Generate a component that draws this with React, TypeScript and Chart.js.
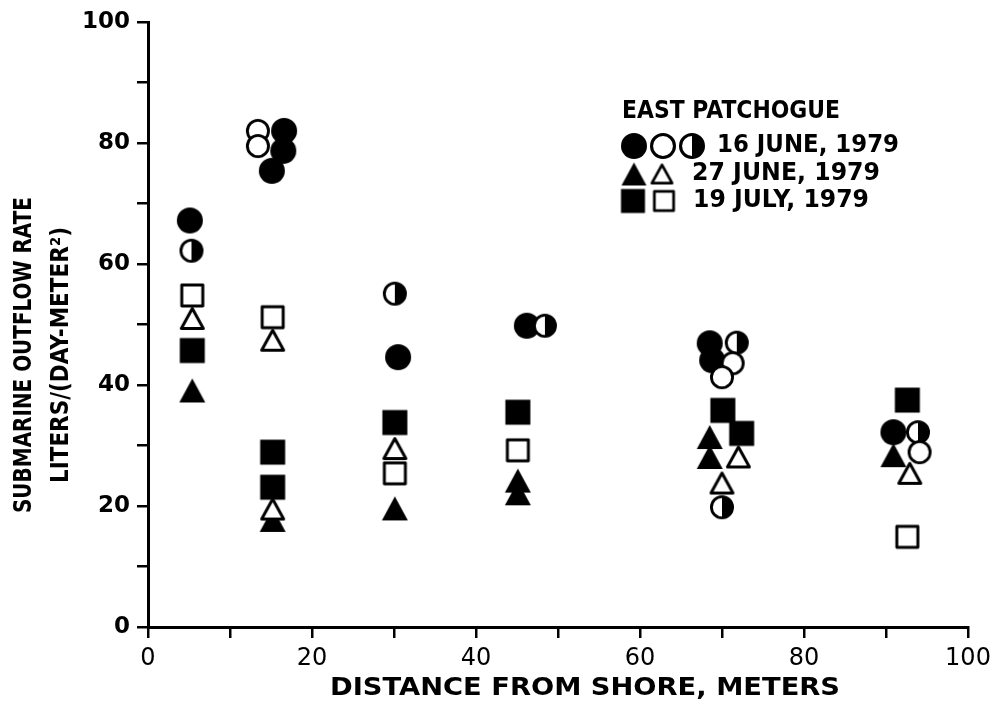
import React, { useEffect, useRef } from "react";
import { Chart, registerables } from "chart.js";

Chart.register(...registerables);

// ---- data (distance from shore, m ; outflow rate, L/(day·m²)) ----
const june16FilledX = [5.1, 16.6, 16.5, 15.1, 30.5, 46.2, 68.5, 68.8, 90.9];
const june16FilledY = [67.2, 82.0, 78.7, 75.4, 44.6, 49.8, 46.9, 44.1, 32.2];
const june16OpenX = [13.4, 13.4, 71.3, 70.0, 94.1];
const june16OpenY = [82.0, 79.5, 43.6, 41.3, 28.9];
const june16HalfX = [5.3, 30.1, 48.4, 71.8, 70.0, 93.9];
const june16HalfY = [62.2, 55.1, 49.8, 47.0, 19.8, 32.2];
const june27FilledX = [5.4, 15.2, 30.1, 45.1, 45.1, 68.5, 68.5, 90.9];
const june27FilledY = [39.1, 17.7, 19.6, 24.2, 22.1, 31.4, 28.1, 28.4];
const june27OpenX = [5.4, 15.2, 15.2, 30.1, 72.0, 70.0, 92.9];
const june27OpenY = [51.0, 47.4, 19.5, 29.5, 28.1, 23.8, 25.4];
const july19FilledX = [5.4, 15.2, 15.2, 30.1, 45.1, 70.1, 72.4, 92.6];
const july19FilledY = [45.7, 28.9, 23.1, 33.8, 35.5, 35.8, 32.0, 37.5];
const july19OpenX = [5.4, 15.2, 30.1, 45.1, 92.6];
const july19OpenY = [54.8, 51.2, 25.4, 29.2, 14.9];

const xTicks = [0, 20, 40, 60, 80, 100];
const yTicks = [0, 20, 40, 60, 80, 100];

const xTitle = "DISTANCE FROM SHORE, METERS";
const yTitle1 = "SUBMARINE OUTFLOW RATE";
const yTitle2 = "LITERS/(DAY-METER\u00B2)";
const legendTitle = "EAST PATCHOGUE";
const legendLabels = ["16 JUNE, 1979", "27 JUNE, 1979", "19 JULY, 1979"];

const pts = (xs: number[], ys: number[]) => xs.map((x, i) => ({ x, y: ys[i] }));

type Kind = "fc" | "oc" | "hc" | "ft" | "ot" | "fs" | "os";

function makeMarker(kind: Kind, size: number): HTMLCanvasElement {
  const c = document.createElement("canvas");
  c.width = size;
  c.height = size;
  const ctx = c.getContext("2d")!;
  const m = size / 2;
  const lw = Math.max(2, size * 0.11);
  ctx.lineWidth = lw;
  ctx.strokeStyle = "#000";
  ctx.fillStyle = "#000";
  ctx.lineJoin = "round";
  if (kind === "fc" || kind === "oc" || kind === "hc") {
    const r = m - 1;
    ctx.beginPath();
    ctx.arc(m, m, kind === "fc" ? r : r - lw / 2, 0, Math.PI * 2);
    if (kind === "fc") {
      ctx.fill();
    } else {
      ctx.fillStyle = "#fff";
      ctx.fill();
      if (kind === "hc") {
        ctx.fillStyle = "#000";
        ctx.beginPath();
        ctx.arc(m, m, r - lw / 2, -Math.PI / 2, Math.PI / 2);
        ctx.closePath();
        ctx.fill();
      }
      ctx.beginPath();
      ctx.arc(m, m, r - lw / 2, 0, Math.PI * 2);
      ctx.stroke();
    }
  } else if (kind === "ft" || kind === "ot") {
    const inset = kind === "ft" ? 1 : 1 + lw / 2;
    ctx.beginPath();
    ctx.moveTo(m, inset + 1);
    ctx.lineTo(size - inset, size - inset - 1);
    ctx.lineTo(inset, size - inset - 1);
    ctx.closePath();
    if (kind === "ft") {
      ctx.fill();
    } else {
      ctx.fillStyle = "#fff";
      ctx.fill();
      ctx.stroke();
    }
  } else {
    const inset = kind === "fs" ? 1.5 : 1.5 + lw / 2;
    ctx.beginPath();
    ctx.rect(inset, inset, size - 2 * inset, size - 2 * inset);
    if (kind === "fs") {
      ctx.fill();
    } else {
      ctx.fillStyle = "#fff";
      ctx.fill();
      ctx.stroke();
    }
  }
  return c;
}

function fitText(
  ctx: CanvasRenderingContext2D,
  text: string,
  cx: number,
  cy: number,
  width: number,
  font: string,
  rotate = 0
) {
  ctx.save();
  ctx.font = font;
  const w = ctx.measureText(text).width;
  ctx.translate(cx, cy);
  if (rotate) ctx.rotate(rotate);
  ctx.scale(width / w, 1);
  ctx.textAlign = "center";
  ctx.textBaseline = "middle";
  ctx.fillStyle = "#000";
  ctx.fillText(text, 0, 0);
  ctx.restore();
}

export default function App() {
  const ref = useRef<HTMLCanvasElement>(null);

  useEffect(() => {
    if (!ref.current) return;
    const M: Record<Kind, HTMLCanvasElement> = {
      fc: makeMarker("fc", 28),
      oc: makeMarker("oc", 26),
      hc: makeMarker("hc", 26),
      ft: makeMarker("ft", 28),
      ot: makeMarker("ot", 27),
      fs: makeMarker("fs", 28),
      os: makeMarker("os", 27),
    };
    const L: Record<Kind, HTMLCanvasElement> = {
      fc: makeMarker("fc", 28),
      oc: makeMarker("oc", 28),
      hc: makeMarker("hc", 28),
      ft: makeMarker("ft", 27),
      ot: makeMarker("ot", 25),
      fs: makeMarker("fs", 27),
      os: makeMarker("os", 25),
    };

    const titleFont = 'bold 25px "DejaVu Sans", sans-serif';

    const overlay = {
      id: "overlay",
      afterDraw(chart: any) {
        const ctx: CanvasRenderingContext2D = chart.ctx;
        // axis titles
        fitText(ctx, xTitle, 577, 680, 510, titleFont);
        fitText(ctx, yTitle1, 16, 347, 316, titleFont, -Math.PI / 2);
        fitText(ctx, yTitle2, 53, 347, 256, titleFont, -Math.PI / 2);
        // legend
        fitText(ctx, legendTitle, 614 + 109, 104, 218, 'bold 24px "DejaVu Sans", sans-serif');
        const rows: { kinds: Kind[]; xs: number[]; y: number; tx: number; tw: number }[] = [
          { kinds: ["fc", "oc", "hc"], xs: [626, 655, 684], y: 138, tx: 709, tw: 182 },
          { kinds: ["ft", "ot"], xs: [626, 654], y: 166, tx: 684, tw: 188 },
          { kinds: ["fs", "os"], xs: [625, 656], y: 193, tx: 685, tw: 176 },
        ];
        rows.forEach((r, i) => {
          r.kinds.forEach((k, j) => {
            const im = L[k];
            ctx.drawImage(im, r.xs[j] - im.width / 2, r.y - im.height / 2);
          });
          fitText(ctx, legendLabels[i], r.tx + r.tw / 2, r.y, r.tw, 'bold 24px "DejaVu Sans", sans-serif');
        });
      },
    };

    const axisCommon = (ticksFont: any, pad: number) => ({
      type: "linear" as const,
      min: 0,
      max: 100,
      grid: {
        drawOnChartArea: false,
        drawTicks: true,
        tickLength: 11,
        color: "#000",
        lineWidth: 2.5,
      },
      border: { display: true, color: "#000", width: 3 },
      ticks: {
        stepSize: 10,
        color: "#000",
        font: ticksFont,
        padding: pad,
        autoSkip: false,
        maxRotation: 0,
      },
    });

    const xAxis: any = axisCommon({ family: '"DejaVu Sans", sans-serif', size: 24, weight: "normal" }, 6);
    xAxis.ticks.callback = (v: number) => (xTicks.includes(v) ? String(v) : "");
    xAxis.afterFit = (s: any) => {
      s.height = 90;
      s.paddingLeft = 0;
      s.paddingRight = 0;
    };
    const yAxis: any = axisCommon({ family: '"DejaVu Sans", sans-serif', size: 23, weight: "bold" }, 7);
    yAxis.ticks.callback = (v: number) => (yTicks.includes(v) ? String(v) : "");
    yAxis.afterFit = (s: any) => {
      s.width = 140;
      s.paddingTop = 0;
      s.paddingBottom = 0;
    };

    const mk = (label: string, xs: number[], ys: number[], k: Kind) => ({
      label,
      data: pts(xs, ys),
      pointStyle: M[k],
      pointRadius: 13,
      showLine: false,
    });

    const chart = new Chart(ref.current, {
      type: "scatter",
      data: {
        datasets: [
          mk("16 June 1979 (open)", june16OpenX, june16OpenY, "oc"),
          mk("16 June 1979 (half)", june16HalfX, june16HalfY, "hc"),
          mk("16 June 1979", june16FilledX, june16FilledY, "fc"),
          mk("27 June 1979 (open)", june27OpenX, june27OpenY, "ot"),
          mk("27 June 1979", june27FilledX, june27FilledY, "ft"),
          mk("19 July 1979 (open)", july19OpenX, july19OpenY, "os"),
          mk("19 July 1979", july19FilledX, july19FilledY, "fs"),
        ],
      },
      options: {
        animation: false,
        responsive: true,
        maintainAspectRatio: false,
        layout: { padding: { top: 14, right: 22, left: 0, bottom: 0 } },
        plugins: {
          legend: { display: false },
          tooltip: { enabled: false },
        },
        scales: { x: xAxis, y: yAxis },
      },
      plugins: [overlay],
    });
    return () => chart.destroy();
  }, []);

  return (
    <div style={{ position: "relative", width: 982, height: 709, background: "#fff" }}>
      <canvas ref={ref} />
    </div>
  );
}
